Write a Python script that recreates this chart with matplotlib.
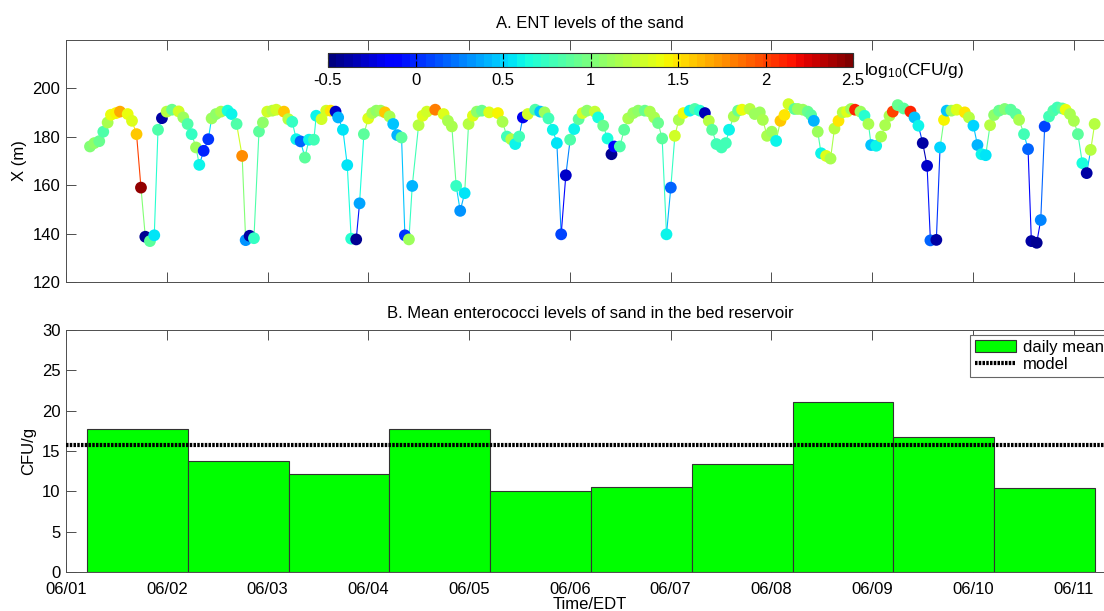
import numpy as np
import matplotlib
matplotlib.use('Agg')
import matplotlib.pyplot as plt
from matplotlib.collections import LineCollection
from matplotlib.patches import Patch
from matplotlib.lines import Line2D

plt.rcParams['font.family'] = ['Liberation Sans', 'DejaVu Sans']
plt.rcParams['mathtext.default'] = 'regular'
plt.rcParams['axes.unicode_minus'] = False

# Panel A: sampling position (days since 06/01 00:00), cross-shore X (m), log10 ENT
t_days = [
    0.238, 0.281, 0.330, 0.370, 0.413, 0.446, 0.496, 0.536, 0.612, 0.655,
    0.700, 0.744, 0.787, 0.833, 0.876, 0.913, 0.952, 0.999, 1.052, 1.118,
    1.164, 1.207, 1.247, 1.290, 1.323, 1.366, 1.412, 1.445, 1.488, 1.538,
    1.604, 1.643, 1.693, 1.748, 1.783, 1.822, 1.865, 1.915, 1.954, 1.997,
    2.047, 2.087, 2.163, 2.206, 2.245, 2.285, 2.328, 2.371, 2.411, 2.460,
    2.483, 2.536, 2.582, 2.626, 2.675, 2.701, 2.748, 2.791, 2.830, 2.880,
    2.913, 2.956, 2.999, 3.039, 3.079, 3.122, 3.165, 3.211, 3.247, 3.287,
    3.330, 3.363, 3.403, 3.436, 3.499, 3.539, 3.581, 3.664, 3.747, 3.790,
    3.829, 3.872, 3.912, 3.956, 3.995, 4.038, 4.077, 4.127, 4.199, 4.286,
    4.332, 4.375, 4.418, 4.458, 4.497, 4.534, 4.583, 4.656, 4.706, 4.749,
    4.788, 4.831, 4.871, 4.914, 4.960, 5.003, 5.043, 5.087, 5.126, 5.170,
    5.248, 5.281, 5.331, 5.374, 5.413, 5.440, 5.496, 5.539, 5.579, 5.629,
    5.678, 5.744, 5.794, 5.837, 5.876, 5.916, 5.959, 6.002, 6.042, 6.081,
    6.128, 6.190, 6.240, 6.290, 6.340, 6.379, 6.412, 6.455, 6.505, 6.548,
    6.580, 6.627, 6.670, 6.709, 6.786, 6.835, 6.885, 6.915, 6.957, 7.004,
    7.047, 7.090, 7.130, 7.170, 7.229, 7.262, 7.312, 7.361, 7.394, 7.421,
    7.460, 7.493, 7.543, 7.587, 7.626, 7.666, 7.708, 7.751, 7.791, 7.830,
    7.884, 7.924, 7.963, 7.990, 8.040, 8.089, 8.129, 8.172, 8.205, 8.254,
    8.313, 8.380, 8.420, 8.459, 8.502, 8.545, 8.578, 8.637, 8.674, 8.713,
    8.740, 8.787, 8.839, 8.919, 8.961, 9.005, 9.045, 9.085, 9.127, 9.170,
    9.210, 9.259, 9.315, 9.375, 9.425, 9.458, 9.507, 9.547, 9.580, 9.633,
    9.673, 9.712, 9.755, 9.798, 9.838, 9.887, 9.920, 9.963, 10.002, 10.042,
    10.086, 10.129, 10.169, 10.208,
]
x_pos = [
    176.0, 177.4, 178.2, 182.1, 185.9, 189.1, 189.8, 190.4, 189.4, 186.6,
    181.1, 159.0, 138.7, 136.9, 139.3, 182.9, 187.7, 190.4, 191.2, 190.5,
    188.0, 185.3, 181.1, 175.6, 168.4, 174.2, 179.0, 187.6, 189.4, 190.4,
    190.8, 189.4, 185.3, 172.1, 137.3, 139.1, 138.1, 182.2, 185.9, 190.4,
    190.8, 191.2, 190.4, 187.3, 186.2, 179.0, 178.1, 171.4, 178.8, 178.8,
    188.7, 187.3, 190.8, 190.8, 190.4, 188.0, 182.9, 168.3, 137.9, 137.6,
    152.5, 181.1, 187.6, 189.8, 190.8, 190.8, 190.1, 188.4, 185.3, 180.7,
    179.7, 139.3, 137.6, 159.7, 184.8, 188.7, 190.4, 191.2, 189.4, 186.6,
    184.3, 159.7, 149.4, 156.7, 185.3, 188.7, 190.4, 190.8, 190.1, 189.8,
    186.2, 180.1, 179.0, 177.0, 180.1, 188.0, 189.4, 191.2, 190.4, 190.1,
    187.6, 182.9, 177.4, 139.7, 164.1, 178.8, 183.2, 187.3, 189.8, 190.8,
    190.4, 188.0, 184.6, 179.3, 172.8, 176.0, 176.0, 182.9, 187.6, 189.8,
    190.8, 190.8, 190.4, 188.0, 185.7, 179.3, 139.7, 159.0, 180.4, 187.0,
    189.8, 190.8, 191.5, 190.8, 189.8, 186.6, 182.9, 177.0, 175.6, 177.4,
    182.9, 188.4, 190.8, 191.2, 191.5, 189.4, 190.1, 187.0, 180.4, 182.1,
    178.3, 186.6, 189.0, 193.5, 191.5, 191.5, 191.2, 190.4, 189.0, 186.6,
    182.1, 173.2, 172.1, 171.0, 183.4, 186.6, 190.1, 190.4, 191.5, 191.2,
    190.4, 188.7, 185.3, 176.6, 176.3, 180.1, 184.8, 188.7, 190.4, 193.1,
    191.7, 190.4, 188.0, 184.6, 177.4, 168.0, 137.2, 137.4, 175.6, 187.0,
    190.8, 190.8, 191.2, 190.1, 188.0, 184.6, 176.6, 172.8, 172.4, 184.8,
    189.0, 190.8, 191.5, 191.2, 189.4, 187.0, 181.1, 174.9, 136.9, 136.2,
    145.6, 184.3, 188.4, 190.8, 192.1, 191.7, 191.2, 189.4, 186.6, 181.1,
    169.1, 165.0, 174.6, 185.3,
]
log_ent = [
    1.00, 1.05, 0.95, 0.85, 1.15, 1.40, 1.45, 1.70, 1.40, 1.35,
    1.60, 2.45, -0.45, 0.90, 0.55, 0.85, -0.40, 1.20, 0.95, 1.30,
    1.10, 0.85, 0.75, 1.10, 0.60, 0.00, 0.05, 1.10, 1.05, 1.15,
    0.65, 0.60, 0.85, 1.75, 0.30, -0.40, 0.75, 0.90, 1.05, 1.30,
    1.20, 1.30, 1.60, 1.20, 0.75, 0.60, 0.20, 0.90, 0.60, 0.80,
    0.60, 1.30, 1.30, 1.50, -0.30, 0.40, 0.55, 0.55, 0.70, -0.45,
    0.35, 0.90, 1.35, 1.15, 1.05, 1.10, 1.60, 1.15, 0.45, 0.40,
    0.90, 0.05, 1.10, 0.40, 1.20, 1.35, 1.30, 1.80, 1.35, 1.15,
    1.15, 0.75, 0.30, 0.55, 1.20, 1.35, 1.05, 0.95, 1.35, 1.45,
    1.15, 0.80, 1.20, 0.60, 0.80, -0.20, 1.30, 0.85, 0.45, 1.10,
    0.80, 0.60, 0.55, 0.10, -0.30, 0.85, 0.60, 0.90, 1.30, 1.05,
    1.25, 0.65, 0.95, 0.65, -0.45, -0.15, 0.85, 0.90, 1.15, 1.10,
    1.05, 0.95, 1.15, 1.15, 0.95, 0.90, 0.60, 0.20, 1.30, 1.15,
    1.40, 0.60, 0.85, 0.70, -0.35, 1.20, 0.90, 0.80, 0.80, 0.80,
    0.60, 1.15, 0.95, 1.40, 1.20, 1.10, 1.10, 1.15, 1.15, 1.10,
    0.60, 1.60, 1.50, 1.30, 0.90, 1.10, 1.10, 0.95, 0.90, 0.40,
    1.10, 0.60, 1.35, 1.15, 1.20, 1.50, 1.20, 1.35, 1.10, 2.10,
    1.10, 0.70, 1.15, 0.45, 0.60, 1.15, 1.15, 1.15, 2.00, 0.95,
    0.90, 2.10, 0.45, 0.60, -0.40, -0.30, 0.20, -0.40, 0.50, 1.45,
    0.45, 1.10, 1.35, 1.50, 1.20, 0.50, 0.40, 0.60, 0.55, 1.20,
    1.05, 0.95, 1.00, 0.90, 0.90, 1.15, 0.80, 0.20, -0.40, -0.45,
    0.25, 0.10, 0.80, 0.85, 0.80, 0.90, 1.40, 1.15, 1.15, 0.90,
    0.65, -0.40, 1.20, 1.20,
]

# Panel B: daily mean enterococci (CFU/g) and model value
day_labels = ['06/01', '06/02', '06/03', '06/04', '06/05', '06/06',
              '06/07', '06/08', '06/09', '06/10', '06/11']
daily_mean = [17.7, 13.8, 12.15, 17.75, 10.0, 10.5, 13.4, 21.05, 16.7, 10.37]
model_value = 15.7

bar_offset = 0.21  # bars start a few hours after midnight
xlim = (0, 10.4)
cmap = plt.get_cmap('jet', 64)
vmin, vmax = -0.5, 2.5
frame_col = '0.3'
fs = 12

fig = plt.figure(figsize=(11.04, 6.11), dpi=100)
ax1 = fig.add_axes([66 / 1104, 1 - 282 / 611, 1048 / 1104, 242 / 611])
ax2 = fig.add_axes([66 / 1104, 1 - 572 / 611, 1048 / 1104, 242 / 611])

# --- A: connected scatter
t = np.array(t_days)
xp = np.array(x_pos)
c = np.array(log_ent)
pts = np.column_stack((t, xp))
segs = np.stack((pts[:-1], pts[1:]), axis=1)
lc = LineCollection(segs, cmap=cmap, linewidths=0.8, zorder=2)
lc.set_array((c[:-1] + c[1:]) / 2)
lc.set_clim(vmin, vmax)
ax1.add_collection(lc)
sc = ax1.scatter(t, xp, c=c, cmap=cmap, vmin=vmin, vmax=vmax, s=72,
                 edgecolors='none', zorder=3)
ax1.set_xlim(*xlim)
ax1.set_ylim(120, 220)
ax1.set_yticks([120, 140, 160, 180, 200])
ax1.set_xticks(range(len(day_labels)))
ax1.set_xticklabels([])
ax1.set_ylabel('X (m)', fontsize=fs)
ax1.set_title('A. ENT levels of the sand', fontsize=fs, pad=9)

cax = fig.add_axes([328 / 1104, 1 - 67 / 611, 525 / 1104, 14 / 611])
cb = fig.colorbar(sc, cax=cax, orientation='horizontal',
                  ticks=[-0.5, 0, 0.5, 1, 1.5, 2, 2.5])
cb.ax.set_xticklabels(['-0.5', '0', '0.5', '1', '1.5', '2', '2.5'])
cb.ax.tick_params(direction='in', top=True, bottom=True, length=4,
                  width=0.8, color='k', labelsize=fs, pad=4)
cb.outline.set_linewidth(0.8)
cb.outline.set_edgecolor('0.2')
fig.text(864 / 1104, 1 - 70 / 611, r'log$_{10}$(CFU/g)', fontsize=12.5,
         ha='left', va='center')

# --- B: daily bars and model line
day_idx = np.arange(len(daily_mean))
ax2.bar(day_idx + bar_offset, daily_mean, width=1.0, align='edge',
        color='#00ff00', edgecolor='0.2', linewidth=0.8, zorder=2)
ax2.axhline(model_value, color='k', lw=3, linestyle=(0, (0.6, 0.3)), zorder=3)
ax2.set_axisbelow(True)
ax2.set_xlim(*xlim)
ax2.set_ylim(0, 30)
ax2.set_yticks(range(0, 31, 5))
ax2.set_xticks(range(len(day_labels)))
ax2.set_xticklabels(day_labels)
ax2.set_ylabel('CFU/g', fontsize=fs)
ax2.set_xlabel('Time/EDT', fontsize=fs, labelpad=0)
ax2.set_title('B. Mean enterococci levels of sand in the bed reservoir',
              fontsize=fs, pad=9)

handles = [Patch(facecolor='#00ff00', edgecolor='0.2', linewidth=0.8),
           Line2D([], [], color='k', lw=3, linestyle=(0, (0.6, 0.3)))]
leg = ax2.legend(handles, ['daily mean', 'model'], loc='upper right',
                 fontsize=fs, handlelength=2.5, handletextpad=0.4,
                 borderaxespad=0.3, fancybox=False, framealpha=1,
                 edgecolor='0.4', borderpad=0.3, labelspacing=0.1)
leg.get_frame().set_linewidth(0.8)

for ax in (ax1, ax2):
    ax.tick_params(direction='in', top=True, right=True, length=7,
                   width=0.7, color=frame_col, labelsize=fs, pad=4)
    for sp in ax.spines.values():
        sp.set_color(frame_col)
        sp.set_linewidth(0.7)
ax2.tick_params(axis='x', pad=7)

fig.savefig('out.png', dpi=100)
